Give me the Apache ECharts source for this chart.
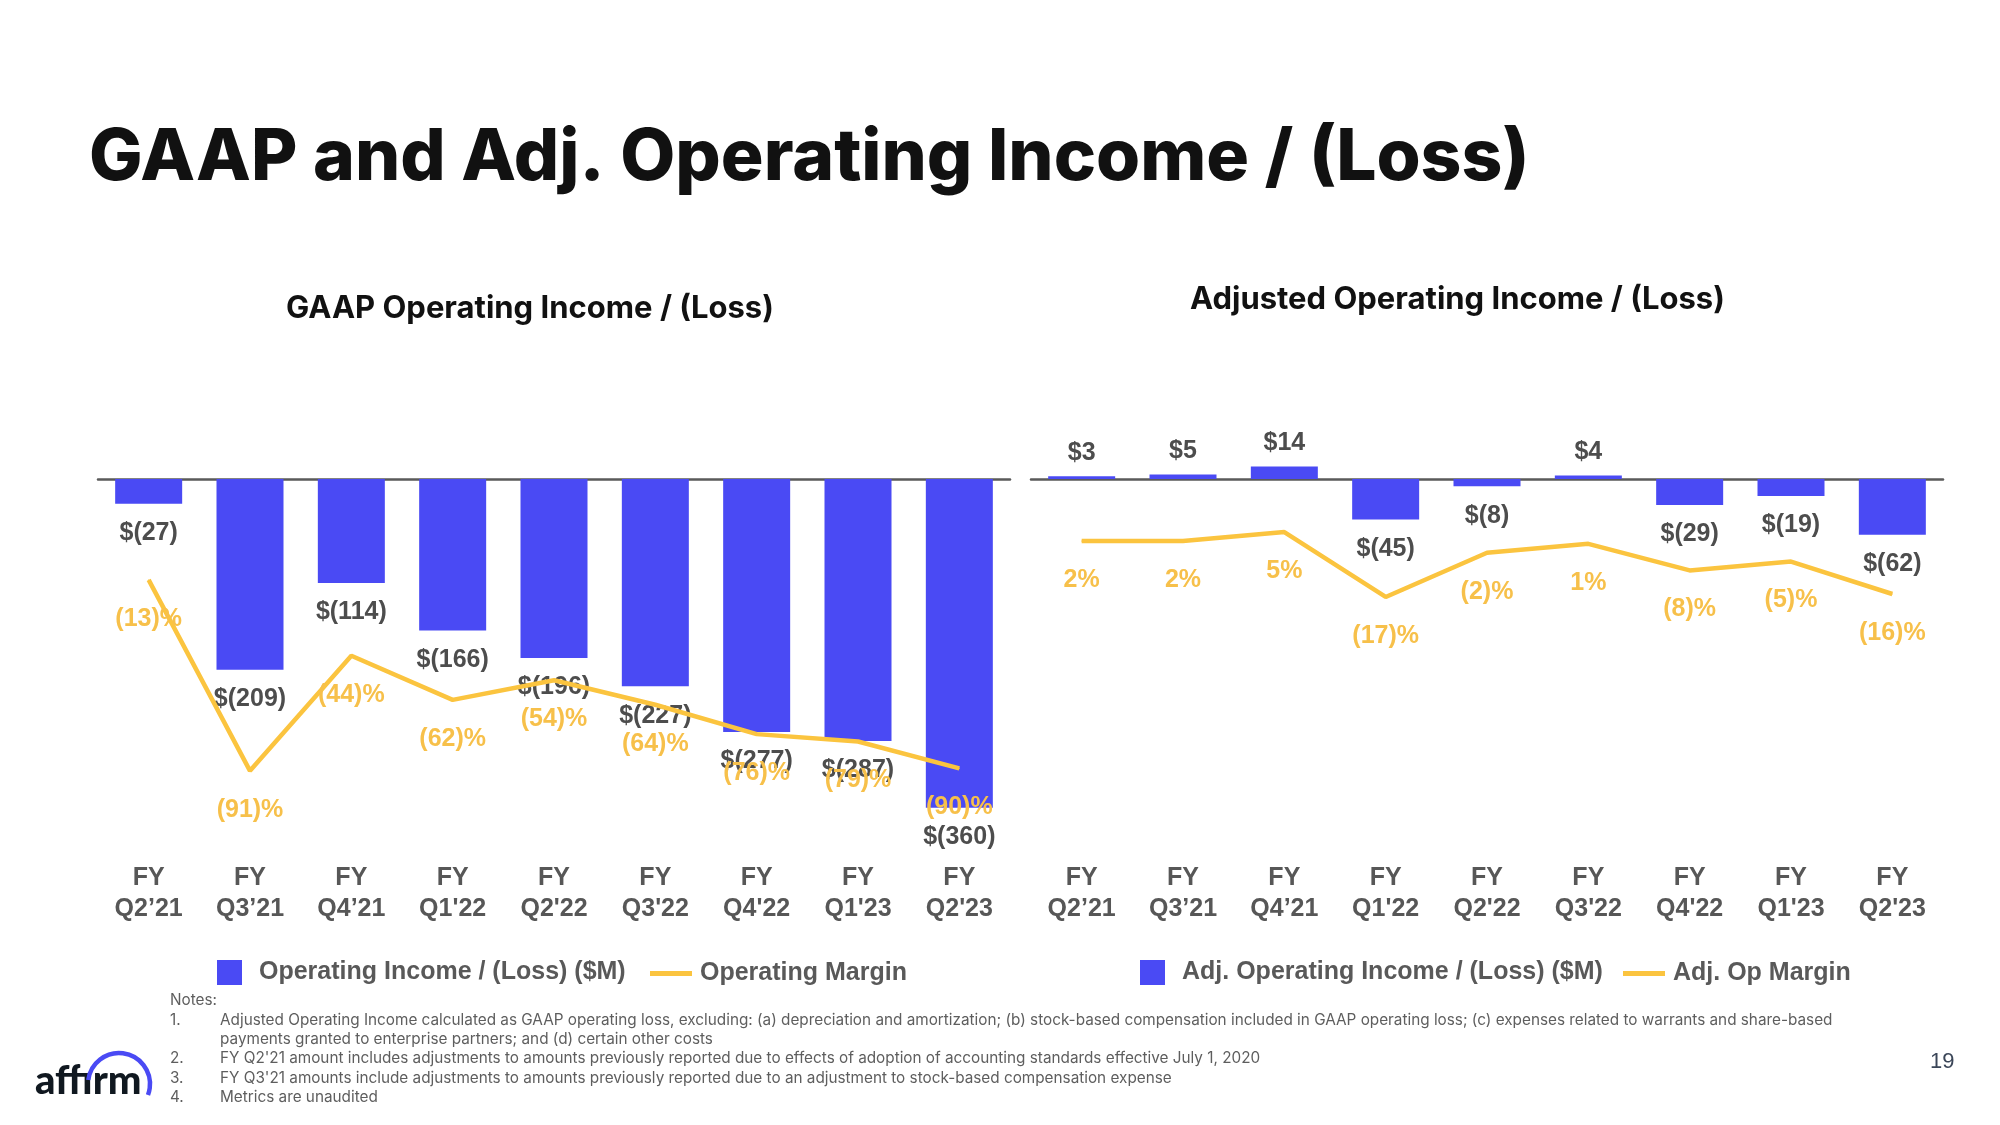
<!DOCTYPE html>
<html><head><meta charset="utf-8">
<script src="https://cdn.jsdelivr.net/npm/echarts@6/dist/echarts.min.js"></script>
<style>html,body{margin:0;padding:0;background:#fff}#chart{width:2000px;height:1125px}</style>
</head><body><div id="chart"></div>
<script>
// ---- data ----
const categories = ['FY\nQ2\u201921', 'FY\nQ3\u201921', 'FY\nQ4\u201921', "FY\nQ1'22", "FY\nQ2'22", "FY\nQ3'22", "FY\nQ4'22", "FY\nQ1'23", "FY\nQ2'23"];
const gaapIncome = [-27, -209, -114, -166, -196, -227, -277, -287, -360];
const gaapMargin = [-13, -91, -44, -62, -54, -64, -76, -79, -90];
const adjIncome = [3, 5, 14, -45, -8, 4, -29, -19, -62];
const adjMargin = [2, 2, 5, -17, -2, 1, -8, -5, -16];
const notes = [
  ['1.', 'Adjusted Operating Income calculated as GAAP operating loss, excluding: (a) depreciation and amortization; (b) stock-based compensation included in GAAP operating loss; (c) expenses related to warrants and share-based'],
  ['', 'payments granted to enterprise partners; and (d) certain other costs'],
  ['2.', "FY Q2'21 amount includes adjustments to amounts previously reported due to effects of adoption of accounting standards effective July 1, 2020"],
  ['3.', "FY Q3'21 amounts include adjustments to amounts previously reported due to an adjustment to stock-based compensation expense"],
  ['4.', 'Metrics are unaudited']
];

// ---- style / layout ----
const BLUE = '#4A4AF4', YELLOW = '#FBC43F', LABEL_Y = '#F7C04A', DARK = '#4D4D4D', AXIS = '#5A5A5A';
const GRID_TOP = 383, GRID_BOTTOM = 844;
function span(zero, k) { return { min: -(GRID_BOTTOM - zero) / k, max: (zero - GRID_TOP) / k }; }
const L = { left: 98, width: 912, barZero: 479, barK: 0.913, lineZero: 548, lineK: 2.449 };
const R = { left: 1031, width: 912, barZero: 479, barK: 0.9, lineZero: 546.8, lineK: 2.95 };
const ARIAL = '"Liberation Sans", Arial, sans-serif';
const dataFont = { fontFamily: ARIAL, fontWeight: 'bold', fontSize: 25 };
const NOTE_FONT = '15.3px Inter';

function money(v) { return v < 0 ? '$(' + Math.abs(v) + ')' : '$' + v; }
function pct(v) { return v < 0 ? '(' + Math.abs(v) + ')%' : v + '%'; }
function barData(arr) { return arr.map(v => ({ value: v, label: { distance: v < 0 ? 17 : 11 } })); }

const chart = echarts.init(document.getElementById('chart'), null, { renderer: 'canvas' });

function xAxes(gi, zeroIdx) {
  return [
    { gridIndex: gi, type: 'category', data: categories,
      axisLine: { onZero: true, onZeroAxisIndex: zeroIdx, lineStyle: { color: AXIS, width: 2.5 } },
      axisTick: { show: false }, axisLabel: { show: false }, splitLine: { show: false } },
    { gridIndex: gi, type: 'category', data: categories, position: 'bottom',
      axisLine: { show: false, onZero: false }, axisTick: { show: false }, splitLine: { show: false },
      axisLabel: { margin: 19, lineHeight: 31, ...dataFont, color: '#575757', interval: 0 } }
  ];
}
function yAxis(gi, s) { return Object.assign({ gridIndex: gi, type: 'value', show: false, splitLine: { show: false } }, s); }

function barSeries(name, xi, yi, arr) {
  return { type: 'bar', name, xAxisIndex: xi, yAxisIndex: yi, data: barData(arr), barWidth: 67,
    itemStyle: { color: BLUE }, z: 2,
    label: { show: true, position: 'outside', formatter: p => money(p.value), ...dataFont, color: DARK } };
}
function lineSeries(name, xi, yi, arr) {
  return { type: 'line', name, xAxisIndex: xi, yAxisIndex: yi, data: arr, symbol: 'circle', symbolSize: 1,
    itemStyle: { color: YELLOW }, lineStyle: { color: YELLOW, width: 4.5 }, z: 3,
    label: { show: true, position: 'bottom', distance: 26, formatter: p => pct(p.value), ...dataFont, color: LABEL_Y } };
}
function legend(left, top, w, h, name, gap) {
  return { left, top, padding: 0, itemWidth: w, itemHeight: h, icon: 'rect', data: [name], selectedMode: false,
    formatter: '{s| }{name}', textStyle: { ...dataFont, color: '#595959', rich: { s: { width: gap } } } };
}

const graphic = [
  { type: 'text', x: 89, y: 159, style: { text: 'GAAP and Adj. Operating Income / (Loss)', font: '800 71.3px Inter', fill: '#111111', verticalAlign: 'middle' } },
  { type: 'text', x: 286, y: 309, style: { text: 'GAAP Operating Income / (Loss)', font: 'bold 31px Inter', fill: '#111111', verticalAlign: 'middle' } },
  { type: 'text', x: 1190, y: 300, style: { text: 'Adjusted Operating Income / (Loss)', font: 'bold 31px Inter', fill: '#111111', verticalAlign: 'middle' } },
  { type: 'text', x: 170, y: 1000, style: { text: 'Notes:', font: NOTE_FONT, fill: '#5E5E5E', verticalAlign: 'middle' } },
  { type: 'text', x: 1930, y: 1062, style: { text: '19', font: '22px "Liberation Sans"', fill: '#3B4658', verticalAlign: 'middle' } },
  { type: 'text', x: 35, y: 1081, style: { text: 'aff\u0131rm', font: '900 40px Lato', fill: '#101820', verticalAlign: 'middle' } },
  { type: 'arc', shape: { cx: 119, cy: 1084, r: 31, startAngle: 3.27, endAngle: 6.646, clockwise: true },
    style: { stroke: BLUE, lineWidth: 4.5, fill: null } }
];
notes.forEach((n, i) => {
  const y = 1020 + i * 19.4;
  if (n[0]) graphic.push({ type: 'text', x: 170, y, style: { text: n[0], font: NOTE_FONT, fill: '#5E5E5E', verticalAlign: 'middle' } });
  graphic.push({ type: 'text', x: 220, y, style: { text: n[1], font: NOTE_FONT, fill: '#5E5E5E', verticalAlign: 'middle' } });
});

chart.setOption({
  animation: false,
  backgroundColor: '#ffffff',
  grid: [
    { left: L.left, width: L.width, top: GRID_TOP, height: GRID_BOTTOM - GRID_TOP },
    { left: R.left, width: R.width, top: GRID_TOP, height: GRID_BOTTOM - GRID_TOP }
  ],
  xAxis: [...xAxes(0, 0), ...xAxes(1, 2)],
  yAxis: [
    yAxis(0, span(L.barZero, L.barK)), yAxis(0, span(L.lineZero, L.lineK)),
    yAxis(1, span(R.barZero, R.barK)), yAxis(1, span(R.lineZero, R.lineK))
  ],
  legend: [
    legend(217, 960, 25, 25, 'Operating Income / (Loss) ($M)', 12),
    legend(650, 961, 42, 5, 'Operating Margin', 3),
    legend(1140, 960, 25, 25, 'Adj. Operating Income / (Loss) ($M)', 12),
    legend(1623, 961, 42, 5, 'Adj. Op Margin', 3)
  ],
  series: [
    barSeries('Operating Income / (Loss) ($M)', 0, 0, gaapIncome),
    lineSeries('Operating Margin', 0, 1, gaapMargin),
    barSeries('Adj. Operating Income / (Loss) ($M)', 2, 2, adjIncome),
    lineSeries('Adj. Op Margin', 2, 3, adjMargin)
  ],
  graphic
});
</script></body></html>
